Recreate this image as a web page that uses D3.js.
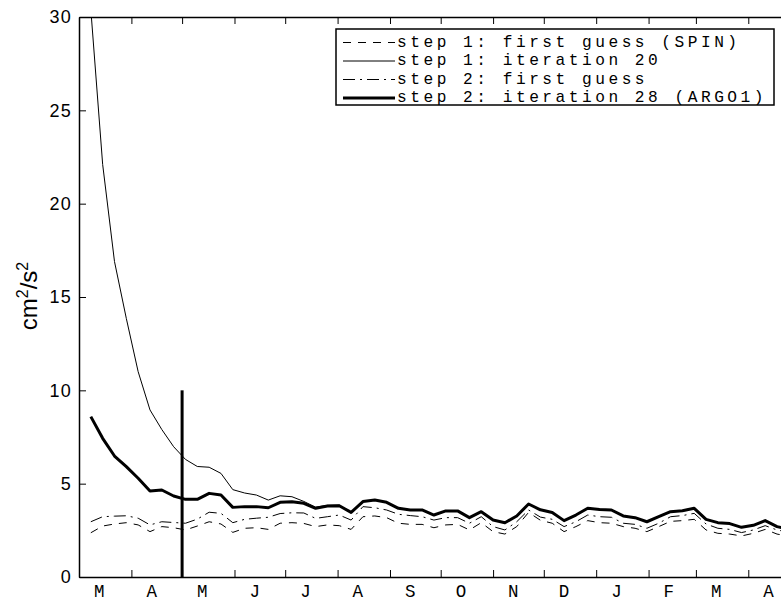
<!DOCTYPE html>
<html>
<head>
<meta charset="utf-8">
<script src="https://cdn.jsdelivr.net/npm/d3@7"></script>
<style>
  html, body { margin: 0; padding: 0; background: #fff; }
  svg { display: block; }
</style>
</head>
<body>
<svg id="chart" width="781" height="602"></svg>
<script>
// Weekly energy diagnostics (cm^2/s^2), first sample 8 March
const startDate = new Date(2005, 2, 8);
const nWeeks = 60;

const monthLabels = ["M", "A", "M", "J", "J", "A", "S", "O", "N", "D", "J", "F", "M", "A"];
const yTicks = [0, 5, 10, 15, 20, 25, 30];

// step 1: first guess (SPIN)
const step1First = [
  2.37, 2.73, 2.84, 2.91, 2.79, 2.43, 2.70, 2.64, 2.52, 2.73,
  2.96, 2.84, 2.39, 2.61, 2.64, 2.55, 2.88, 2.91, 2.87, 2.70,
  2.79, 2.75, 2.55, 3.23, 3.27, 3.18, 2.88, 2.82, 2.82, 2.64,
  2.79, 2.82, 2.52, 2.91, 2.43, 2.30, 2.70, 3.46, 3.04, 2.88,
  2.43, 2.70, 3.02, 2.91, 2.88, 2.70, 2.61, 2.43, 2.70, 2.98,
  3.02, 3.09, 2.52, 2.34, 2.30, 2.20, 2.34, 2.55, 2.30, 2.18
];

// step 1: iteration 20
const step1Iter = [
  30.4, 22.1, 16.9, 13.85, 11.0, 8.95, 7.9, 6.98, 6.3, 5.92,
  5.88, 5.55, 4.68, 4.5, 4.39, 4.12, 4.35, 4.3, 4.05, 3.74,
  3.84, 3.85, 3.48, 4.06, 4.13, 4.01, 3.69, 3.60, 3.60, 3.33,
  3.55, 3.55, 3.19, 3.51, 3.06, 2.92, 3.28, 3.92, 3.61, 3.47,
  3.03, 3.33, 3.69, 3.63, 3.60, 3.28, 3.19, 2.97, 3.24, 3.51,
  3.56, 3.69, 3.10, 2.92, 2.87, 2.67, 2.78, 3.03, 2.71, 2.56
];

// step 2: first guess
const step2First = [
  2.96, 3.23, 3.26, 3.28, 3.15, 2.79, 2.96, 2.92, 2.88, 3.10,
  3.47, 3.41, 2.91, 3.09, 3.15, 3.20, 3.40, 3.44, 3.43, 3.14,
  3.23, 3.32, 3.05, 3.77, 3.71, 3.59, 3.36, 3.29, 3.23, 3.05,
  3.18, 3.18, 2.88, 3.23, 2.70, 2.52, 2.96, 3.59, 3.21, 3.09,
  2.70, 2.96, 3.32, 3.23, 3.20, 2.88, 2.82, 2.61, 2.88, 3.23,
  3.29, 3.41, 2.84, 2.61, 2.55, 2.38, 2.52, 2.75, 2.52, 2.40
];

// step 2: iteration 28 (ARGO1)
const step2Iter = [
  8.59, 7.43, 6.48, 5.91, 5.29, 4.61, 4.66, 4.34, 4.16, 4.16,
  4.48, 4.39, 3.73, 3.77, 3.77, 3.71, 4.00, 4.03, 3.95, 3.68,
  3.80, 3.82, 3.46, 4.04, 4.12, 4.00, 3.68, 3.59, 3.59, 3.32,
  3.54, 3.54, 3.18, 3.50, 3.05, 2.91, 3.27, 3.91, 3.60, 3.46,
  3.02, 3.32, 3.68, 3.62, 3.59, 3.27, 3.18, 2.96, 3.23, 3.50,
  3.55, 3.68, 3.09, 2.91, 2.86, 2.66, 2.77, 3.02, 2.70, 2.55
];

const legendLabels = [
  "step 1: first guess (SPIN)",
  "step 1: iteration 20",
  "step 2: first guess",
  "step 2: iteration 28 (ARGO1)"
];

// Marker separating the two assimilation steps
const markerDate = new Date(2005, 4, 1);
const markerTop = 10;

const dates = d3.range(nWeeks).map(i => d3.timeDay.offset(startDate, 7 * i));

const series = [
  { name: legendLabels[0], values: step1First, width: 1, dash: "8,7" },
  { name: legendLabels[1], values: step1Iter,  width: 1, dash: null },
  { name: legendLabels[2], values: step2First, width: 1, dash: "12,5,2,5" },
  { name: legendLabels[3], values: step2Iter,  width: 3, dash: null }
];

const svg = d3.select("#chart");
const plotLeft = 79, plotRight = 799, plotTop = 17, plotBottom = 577;
const monoFont = "'Courier New', 'Liberation Mono', monospace";
const sansFont = "'Liberation Sans', Arial, sans-serif";

const x = d3.scaleTime()
  .domain([new Date(2005, 2, 1), new Date(2006, 4, 1)])
  .range([plotLeft, plotRight]);
const y = d3.scaleLinear().domain([0, 30]).range([plotBottom, plotTop]);

const monthStarts = d3.timeMonth.range(new Date(2005, 2, 1), new Date(2006, 4, 1));

svg.append("defs").append("clipPath").attr("id", "plotClip")
  .append("rect").attr("x", plotLeft).attr("y", plotTop)
  .attr("width", plotRight - plotLeft).attr("height", plotBottom - plotTop);

// data lines
const line = d3.line()
  .x((d, i) => x(dates[i]))
  .y(d => y(d));

const plot = svg.append("g").attr("clip-path", "url(#plotClip)");
series.forEach(s => {
  plot.append("path")
    .datum(s.values)
    .attr("d", line)
    .attr("fill", "none")
    .attr("stroke", "#000")
    .attr("stroke-width", s.width)
    .attr("stroke-linejoin", "round")
    .attr("stroke-dasharray", s.dash);
});

// vertical marker
svg.append("line")
  .attr("x1", x(markerDate)).attr("x2", x(markerDate))
  .attr("y1", y(0)).attr("y2", y(markerTop))
  .attr("stroke", "#000").attr("stroke-width", 3);

// axes
const styleAxis = g => {
  g.select(".domain").attr("stroke", "#000").attr("stroke-width", 1.5);
  g.selectAll(".tick line").attr("stroke", "#000").attr("stroke-width", 1);
};

svg.append("g")
  .attr("transform", `translate(0,${plotBottom})`)
  .call(d3.axisBottom(x).tickValues(monthStarts).tickSizeInner(-7).tickSizeOuter(0).tickFormat(""))
  .call(styleAxis);

svg.append("g")
  .attr("transform", `translate(0,${plotTop})`)
  .call(d3.axisTop(x).tickValues(monthStarts).tickSizeInner(-7).tickSizeOuter(0).tickFormat(""))
  .call(styleAxis);

const yAxis = svg.append("g")
  .attr("transform", `translate(${plotLeft},0)`)
  .call(d3.axisLeft(y).tickValues(yTicks).tickSizeInner(-7).tickSizeOuter(0).tickPadding(7))
  .call(styleAxis);
yAxis.selectAll(".tick text")
  .attr("font-family", sansFont)
  .attr("font-size", 18)
  .attr("letter-spacing", 1.2)
  .attr("fill", "#000");

// month letters
svg.append("g").selectAll("text")
  .data(monthStarts)
  .join("text")
  .attr("x", d => x(d3.timeDay.offset(d, 12)))
  .attr("y", 596.5)
  .attr("text-anchor", "middle")
  .attr("font-family", monoFont)
  .attr("font-size", 17.5)
  .attr("fill", "#000")
  .text((d, i) => monthLabels[i]);

// y-axis title
const yt = svg.append("text")
  .attr("transform", "translate(37,296) rotate(-90)")
  .attr("text-anchor", "middle")
  .attr("font-family", sansFont)
  .attr("font-size", 24)
  .attr("fill", "#000");
yt.append("tspan").text("cm");
yt.append("tspan").attr("dy", -9).attr("font-size", 16).text("2");
yt.append("tspan").attr("dy", 9).text("/s");
yt.append("tspan").attr("dy", -9).attr("font-size", 16).text("2");

// legend
const lg = svg.append("g");
lg.append("rect")
  .attr("x", 336).attr("y", 29).attr("width", 438).attr("height", 76)
  .attr("fill", "#fff").attr("stroke", "#000").attr("stroke-width", 1.5);
const rowY = [42.5, 61, 79.5, 98];
series.forEach((s, i) => {
  lg.append("line")
    .attr("x1", 343).attr("x2", 395)
    .attr("y1", rowY[i]).attr("y2", rowY[i])
    .attr("stroke", "#000")
    .attr("stroke-width", s.width)
    .attr("stroke-dasharray", s.dash);
  lg.append("text")
    .attr("x", 397).attr("y", rowY[i])
    .attr("dominant-baseline", "central")
    .attr("font-family", monoFont)
    .attr("font-size", 16.2)
    .attr("letter-spacing", 3.5)
    .attr("fill", "#000")
    .text(s.name);
});
</script>
</body>
</html>
